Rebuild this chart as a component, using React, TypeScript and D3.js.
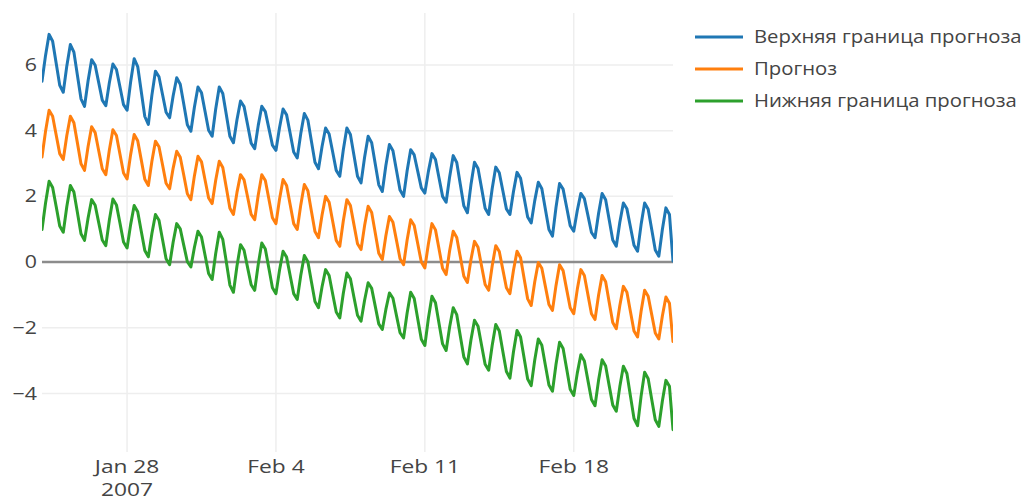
import React from "react";
import * as d3 from "d3";

// ---- data (4-hourly samples starting Jan 24 2007 00:00) ----
const START = new Date(2007, 0, 24, 0, 0, 0);
const STEP_HOURS = 4;

const upper: number[] = [
  5.50, 6.29, 6.93, 6.72, 6.05, 5.38,
  5.17, 5.97, 6.62, 6.39, 5.68, 4.97,
  4.74, 5.52, 6.16, 5.99, 5.46, 4.93,
  4.76, 5.46, 6.03, 5.86, 5.33, 4.79,
  4.62, 5.48, 6.19, 5.95, 5.19, 4.43,
  4.19, 5.08, 5.81, 5.64, 5.10, 4.56,
  4.39, 5.06, 5.61, 5.41, 4.80, 4.18,
  3.98, 4.72, 5.33, 5.15, 4.58, 4.01,
  3.83, 4.66, 5.33, 5.13, 4.48, 3.83,
  3.63, 4.33, 4.90, 4.73, 4.18, 3.62,
  3.45, 4.16, 4.74, 4.58, 4.07, 3.56,
  3.40, 4.09, 4.66, 4.48, 3.92, 3.35,
  3.17, 3.91, 4.52, 4.32, 3.68, 3.04,
  2.84, 3.52, 4.08, 3.90, 3.35, 2.79,
  2.61, 3.42, 4.08, 3.88, 3.25, 2.61,
  2.41, 3.19, 3.83, 3.63, 2.99, 2.35,
  2.15, 2.94, 3.58, 3.39, 2.79, 2.19,
  2.00, 2.78, 3.42, 3.26, 2.76, 2.26,
  2.10, 2.76, 3.30, 3.12, 2.56, 2.00,
  1.82, 2.60, 3.24, 3.03, 2.37, 1.71,
  1.50, 2.35, 3.04, 2.85, 2.25, 1.64,
  1.45, 2.24, 2.89, 2.72, 2.17, 1.62,
  1.45, 2.15, 2.73, 2.55, 1.96, 1.37,
  1.19, 1.87, 2.43, 2.23, 1.61, 0.99,
  0.79, 1.67, 2.39, 2.22, 1.67, 1.11,
  0.94, 1.57, 2.09, 1.93, 1.42, 0.90,
  0.74, 1.48, 2.09, 1.90, 1.29, 0.67,
  0.48, 1.21, 1.80, 1.62, 1.07, 0.51,
  0.33, 1.14, 1.80, 1.61, 0.99, 0.37,
  0.18, 0.99, 1.65, 1.45, 0.03,
];

const forecast: number[] = [
  3.20, 3.98, 4.62, 4.44, 3.87, 3.30,
  3.12, 3.85, 4.44, 4.24, 3.62, 2.99,
  2.79, 3.52, 4.12, 3.94, 3.39, 2.84,
  2.66, 3.41, 4.03, 3.85, 3.28, 2.71,
  2.53, 3.27, 3.88, 3.69, 3.11, 2.52,
  2.33, 3.07, 3.68, 3.51, 2.96, 2.40,
  2.23, 2.86, 3.37, 3.19, 2.64, 2.08,
  1.90, 2.63, 3.22, 3.05, 2.50, 1.95,
  1.78, 2.49, 3.07, 2.88, 2.26, 1.64,
  1.45, 2.12, 2.66, 2.50, 1.98, 1.45,
  1.29, 2.04, 2.66, 2.48, 1.92, 1.35,
  1.17, 1.91, 2.51, 2.33, 1.75, 1.17,
  0.99, 1.74, 2.36, 2.17, 1.55, 0.93,
  0.74, 1.43, 2.00, 1.82, 1.24, 0.66,
  0.48, 1.26, 1.90, 1.72, 1.14, 0.56,
  0.38, 1.11, 1.70, 1.51, 0.89, 0.27,
  0.08, 0.80, 1.39, 1.21, 0.66, 0.10,
  -0.08, 0.67, 1.29, 1.11, 0.56, 0.00,
  -0.18, 0.56, 1.17, 0.98, 0.40, -0.19,
  -0.38, 0.35, 0.94, 0.75, 0.16, -0.43,
  -0.62, 0.07, 0.63, 0.45, -0.12, -0.68,
  -0.86, -0.11, 0.50, 0.32, -0.23, -0.78,
  -0.96, -0.25, 0.33, 0.13, -0.50, -1.12,
  -1.32, -0.60, -0.01, -0.19, -0.74, -1.29,
  -1.47, -0.71, -0.08, -0.26, -0.83, -1.39,
  -1.57, -0.83, -0.23, -0.41, -0.99, -1.57,
  -1.75, -1.01, -0.41, -0.60, -1.22, -1.84,
  -2.03, -1.32, -0.74, -0.92, -1.51, -2.10,
  -2.28, -1.50, -0.86, -1.04, -1.60, -2.16,
  -2.34, -1.64, -1.06, -1.25, -2.42,
];

const lower: number[] = [
  0.99, 1.80, 2.46, 2.27, 1.69, 1.10,
  0.91, 1.69, 2.33, 2.13, 1.50, 0.86,
  0.66, 1.34, 1.90, 1.73, 1.20, 0.67,
  0.50, 1.28, 1.92, 1.74, 1.18, 0.61,
  0.43, 1.14, 1.72, 1.53, 0.94, 0.35,
  0.16, 0.87, 1.45, 1.27, 0.69, 0.10,
  -0.08, 0.61, 1.17, 1.01, 0.51, 0.01,
  -0.15, 0.45, 0.94, 0.76, 0.21, -0.35,
  -0.53, 0.26, 0.91, 0.69, 0.00, -0.70,
  -0.92, -0.12, 0.53, 0.36, -0.17, -0.69,
  -0.86, -0.07, 0.58, 0.40, -0.19, -0.78,
  -0.96, -0.25, 0.33, 0.15, -0.41, -0.96,
  -1.14, -0.40, 0.20, 0.01, -0.60, -1.20,
  -1.39, -0.75, -0.23, -0.41, -0.97, -1.52,
  -1.70, -0.95, -0.33, -0.51, -1.07, -1.62,
  -1.80, -1.16, -0.63, -0.80, -1.34, -1.88,
  -2.05, -1.44, -0.94, -1.10, -1.63, -2.15,
  -2.31, -1.55, -0.92, -1.11, -1.73, -2.35,
  -2.54, -1.71, -1.04, -1.24, -1.87, -2.49,
  -2.69, -1.97, -1.39, -1.60, -2.25, -2.89,
  -3.10, -2.37, -1.77, -1.95, -2.53, -3.11,
  -3.29, -2.53, -1.90, -2.10, -2.72, -3.33,
  -3.53, -2.73, -2.08, -2.28, -2.92, -3.56,
  -3.76, -2.98, -2.34, -2.53, -3.14, -3.74,
  -3.93, -3.11, -2.44, -2.63, -3.25, -3.87,
  -4.06, -3.38, -2.82, -3.01, -3.60, -4.18,
  -4.37, -3.60, -2.97, -3.16, -3.76, -4.35,
  -4.54, -3.79, -3.17, -3.39, -4.08, -4.76,
  -4.98, -4.08, -3.35, -3.55, -4.18, -4.80,
  -5.00, -4.23, -3.60, -3.78, -5.10,
];

const seriesNames = ["Верхняя граница прогноза", "Прогноз", "Нижняя граница прогноза"];
const seriesColors = ["#1f77b4", "#ff7f0e", "#2ca02c"];
const yTickValues = [-4, -2, 0, 2, 4, 6];
const yDomain: [number, number] = [-5.78, 7.58];

// ---- layout ----
const W = 1026;
const H = 500;
const plot = { left: 42, right: 673, top: 13, bottom: 452 };
const FONT = "'Open Sans', 'Noto Sans', sans-serif";
const FS = 17.5;

function SText(props: {
  x: number;
  y: number;
  sx: number;
  anchor?: "start" | "middle" | "end";
  dy?: string;
  children: React.ReactNode;
}) {
  return (
    <g transform={`translate(${props.x},${props.y}) scale(${props.sx},1)`}>
      <text
        x={0}
        y={0}
        dy={props.dy}
        textAnchor={props.anchor || "start"}
        fontFamily={FONT}
        fontSize={FS}
        fill="#444"
      >
        {props.children}
      </text>
    </g>
  );
}

export default function App() {
  const times = upper.map((_, i) => d3.timeHour.offset(START, i * STEP_HOURS));
  const x = d3
    .scaleTime()
    .domain([times[0], times[times.length - 1]])
    .range([plot.left, plot.right]);
  const y = d3.scaleLinear().domain(yDomain).range([plot.bottom, plot.top]);

  const xTicks = x.ticks(d3.timeWeek.every(1) as any);
  const fmt = d3.timeFormat("%b %-d");

  const all = [upper, forecast, lower];
  const line = d3
    .line<number>()
    .x((_, i) => x(times[i]))
    .y((d) => y(d));

  return (
    <svg
      width={W}
      height={H}
      style={{ position: "absolute", left: 0, top: 0, background: "#fff" }}
    >
      <defs>
        <clipPath id="plotclip">
          <rect
            x={plot.left}
            y={plot.top}
            width={plot.right - plot.left}
            height={plot.bottom - plot.top}
          />
        </clipPath>
      </defs>
      {/* grid */}
      {xTicks.map((t, i) => (
        <line
          key={"xg" + i}
          x1={x(t)}
          x2={x(t)}
          y1={plot.top}
          y2={plot.bottom}
          stroke="#eeeeee"
          strokeWidth={1.5}
        />
      ))}
      {yTickValues
        .filter((v) => v !== 0)
        .map((v) => (
          <line
            key={"yg" + v}
            x1={plot.left}
            x2={plot.right}
            y1={y(v)}
            y2={y(v)}
            stroke="#eeeeee"
            strokeWidth={1.5}
          />
        ))}
      <line
        x1={plot.left}
        x2={plot.right}
        y1={y(0)}
        y2={y(0)}
        stroke="#8c8c8c"
        strokeWidth={2.5}
      />
      {/* lines */}
      <g clipPath="url(#plotclip)">
        {all.map((s, k) => (
          <path
            key={"s" + k}
            d={line(s) || ""}
            fill="none"
            stroke={seriesColors[k]}
            strokeWidth={3}
            strokeLinejoin="round"
            strokeLinecap="round"
          />
        ))}
      </g>
      {/* y tick labels */}
      {yTickValues.map((v) => (
        <SText key={"yl" + v} x={37} y={y(v)} dy="0.35em" anchor="end" sx={1.22}>
          {v < 0 ? "\u2212" + Math.abs(v) : String(v)}
        </SText>
      ))}
      {/* x tick labels */}
      {xTicks.map((t, i) => (
        <g key={"xl" + i}>
          <SText x={x(t)} y={473} anchor="middle" sx={1.3}>
            {fmt(t)}
          </SText>
          {i === 0 && (
            <SText x={x(t)} y={496} anchor="middle" sx={1.3}>
              {d3.timeFormat("%Y")(t)}
            </SText>
          )}
        </g>
      ))}
      {/* legend */}
      {seriesNames.map((name, k) => {
        const cy = 37 + k * 32;
        return (
          <g key={"lg" + k}>
            <line
              x1={695}
              x2={743}
              y1={cy}
              y2={cy}
              stroke={seriesColors[k]}
              strokeWidth={3}
            />
            <SText x={754} y={cy} dy="0.35em" sx={1.16}>
              {name}
            </SText>
          </g>
        );
      })}
    </svg>
  );
}
